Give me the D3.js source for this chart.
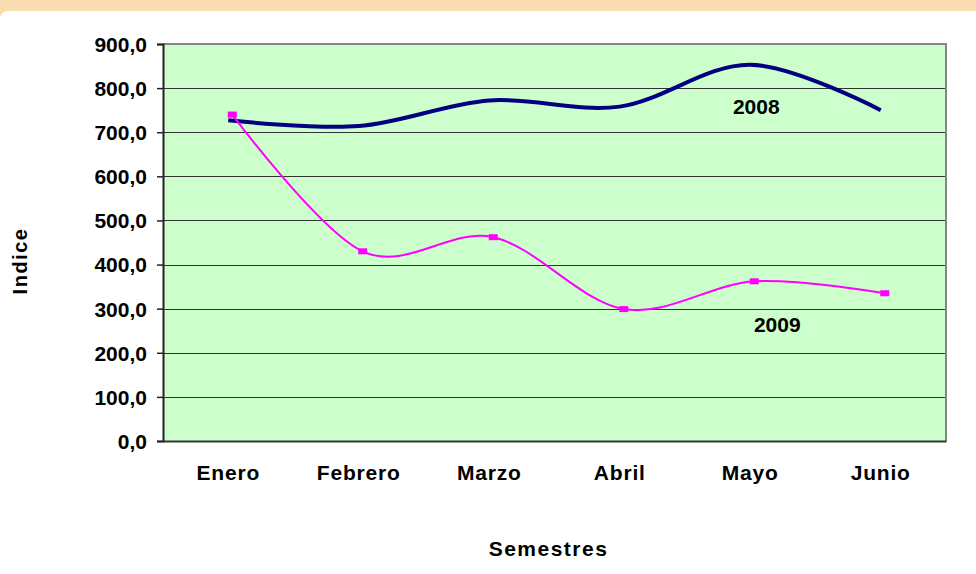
<!DOCTYPE html>
<html>
<head>
<meta charset="utf-8">
<script src="https://cdn.jsdelivr.net/npm/d3@7"></script>
<style>
    body { margin: 0; background: #fff; }
    text { font-family: Arial, "Liberation Sans", sans-serif; font-weight: bold; fill: #000; }
</style>
</head>
<body>
<div id="main"></div>
<script>
const ctx = {
    w: 976,
    h: 574,
    plot: { left: 163, top: 44, right: 946, bottom: 441 }
};

// data
const months = ["Enero", "Febrero", "Marzo", "Abril", "Mayo", "Junio"];
const values2008 = [727, 714, 772, 758, 853, 750];
const values2009 = [740, 430, 462, 299, 362, 335];
const yTicks = [0, 100, 200, 300, 400, 500, 600, 700, 800, 900];

function createViz() {
    let svgEl = d3.select("#main").append("svg")
        .attr("width", ctx.w)
        .attr("height", ctx.h);

    // peach band + white card
    svgEl.append("rect")
        .attr("x", 0).attr("y", 0)
        .attr("width", ctx.w).attr("height", ctx.h)
        .attr("fill", "#f9dcb0");
    svgEl.append("rect")
        .attr("x", 0).attr("y", 11)
        .attr("width", ctx.w + 20).attr("height", ctx.h + 20)
        .attr("rx", 8)
        .attr("fill", "#ffffff");

    let p = ctx.plot;
    let x = d3.scaleBand()
        .domain(months)
        .range([p.left, p.right]);
    let y = d3.scaleLinear()
        .domain([0, 900])
        .range([p.bottom, p.top]);

    // plot area
    svgEl.append("rect")
        .attr("x", p.left).attr("y", p.top)
        .attr("width", p.right - p.left).attr("height", p.bottom - p.top)
        .attr("fill", "#ccffcc");

    // gridlines
    svgEl.append("g")
        .selectAll("line")
        .data(yTicks.filter(t => t > 0 && t < 900))
        .enter()
        .append("line")
        .attr("x1", p.left).attr("x2", p.right)
        .attr("y1", d => Math.round(y(d)) + 0.5)
        .attr("y2", d => Math.round(y(d)) + 0.5)
        .attr("stroke", "#333")
        .attr("stroke-width", 1);

    // border top/right
    svgEl.append("path")
        .attr("d", `M${p.left},${p.top} H${p.right} V${p.bottom}`)
        .attr("fill", "none")
        .attr("stroke", "#858585")
        .attr("stroke-width", 2);

    // y axis
    let yAxis = d3.axisLeft(y)
        .tickValues(yTicks)
        .tickSize(6)
        .tickPadding(10)
        .tickFormat(d => d3.format(".1f")(d).replace(".", ","));
    let yG = svgEl.append("g")
        .attr("transform", `translate(${p.left},0)`)
        .call(yAxis);
    yG.select(".domain").attr("stroke", "#222").attr("stroke-width", 2);
    yG.selectAll(".tick line").attr("stroke", "#222").attr("stroke-width", 1.5);
    yG.selectAll(".tick text")
        .attr("font-size", 21)
        .attr("font-family", "Arial, 'Liberation Sans', sans-serif")
        .attr("font-weight", "bold")
        .attr("fill", "#000")
        .attr("dy", "0.35em");

    // x axis
    let xAxis = d3.axisBottom(x).tickSize(0).tickPadding(24);
    let xG = svgEl.append("g")
        .attr("transform", `translate(0,${p.bottom})`)
        .call(xAxis);
    xG.select(".domain").attr("stroke", "#333").attr("stroke-width", 2);
    xG.selectAll(".tick text")
        .attr("font-size", 21)
        .attr("font-family", "Arial, 'Liberation Sans', sans-serif")
        .attr("font-weight", "bold")
        .attr("letter-spacing", "0.8px")
        .attr("fill", "#000");

    let cx = d => x(d) + x.bandwidth() / 2;
    let line = d3.line()
        .curve(d3.curveCardinal.tension(0));

    // 2008
    let pts2008 = months.map((m, i) => [cx(m), y(values2008[i])]);
    svgEl.append("path")
        .attr("d", line(pts2008))
        .attr("fill", "none")
        .attr("stroke", "#000080")
        .attr("stroke-width", 4);

    // 2009
    let g2009 = svgEl.append("g").attr("transform", "translate(4,0)");
    let pts2009 = months.map((m, i) => [cx(m), y(values2009[i])]);
    g2009.append("path")
        .attr("d", line(pts2009))
        .attr("fill", "none")
        .attr("stroke", "#ff00ff")
        .attr("stroke-width", 2);
    g2009.selectAll("rect")
        .data(pts2009)
        .enter()
        .append("rect")
        .attr("x", d => d[0] - 4.5)
        .attr("y", d => d[1] - 3)
        .attr("width", 9)
        .attr("height", 6)
        .attr("fill", "#ff00ff");

    // series labels
    svgEl.append("text")
        .attr("x", cx("Mayo") + 6)
        .attr("y", y(values2008[4]) + 49)
        .attr("text-anchor", "middle")
        .attr("font-size", 21)
        .text("2008");
    svgEl.append("text")
        .attr("x", cx("Mayo") + 27)
        .attr("y", y(values2009[4]) + 51)
        .attr("text-anchor", "middle")
        .attr("font-size", 21)
        .text("2009");

    // axis titles
    svgEl.append("text")
        .attr("x", (p.left + p.right) / 2 - 6)
        .attr("y", 556)
        .attr("text-anchor", "middle")
        .attr("font-size", 21)
        .attr("letter-spacing", "1.5px")
        .text("Semestres");
    svgEl.append("text")
        .attr("transform", "translate(27,261) rotate(-90)")
        .attr("text-anchor", "middle")
        .attr("font-size", 20)
        .attr("letter-spacing", "1.5px")
        .text("Indice");
}

createViz();
</script>
</body>
</html>
